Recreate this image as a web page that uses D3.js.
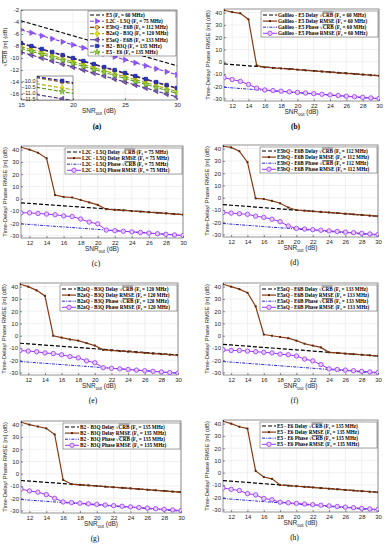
<!DOCTYPE html>
<html lang="en">
<head>
<meta charset="UTF-8">
<title>Time-Delay / Phase RMSE vs SNR</title>
<script src="https://d3js.org/d3.v7.min.js"></script>
<style>
  body { margin: 0; background: #fff; }
  svg text { font-family: "Liberation Sans", Arial, sans-serif; fill: #262626; }
  .leg text { font-family: "Liberation Serif", "DejaVu Serif", serif; font-weight: bold; fill: #000; }
  .cap { font-family: "Liberation Serif", "DejaVu Serif", serif; fill: #000; }
</style>
</head>
<body>
<div id="chart"></div>
<script>
// SNR grid (dB)
const snr = [11,12,13,14,15,16,17,18,19,20,21,22,23,24,25,26,27,28,29,30];
const xTicks = [12,14,16,18,20,22,24,26,28,30];
const yTicks = [-30,-20,-10,0,10,20,30,40];
const snrTicksA = [15,20,25,30];
const yTicksA = [-16,-14,-12,-10,-8,-6,-4,-2];

// (b) Galileo E5, 60 MHz
const delayCrbB  = [-1.8,-2.3,-2.8,-3.3,-3.8,-4.3,-4.8,-5.3,-5.8,-6.3,-6.8,-7.3,-7.8,-8.3,-8.8,-9.3,-9.8,-10.3,-10.8,-11.3];
const delayRmseB = [42,40.5,39.5,34.5,-3,-4.5,-5,-5.5,-6,-6.5,-7,-7.5,-8,-8.5,-9,-9.5,-10,-10.5,-11,-11.5];
const phaseCrbB  = [-20.8,-21.3,-21.8,-22.3,-22.8,-23.3,-23.8,-24.3,-24.8,-25.3,-25.8,-26.3,-26.8,-27.3,-27.8,-28.3,-28.8,-29.3,-29.8,-30.3];
const phaseRmseB = [-13,-14.5,-16,-18.5,-21.5,-23,-23.5,-24,-24.5,-25,-25.5,-26,-26.5,-27,-27.5,-28,-28.5,-29,-29.5,-30];

// (c) L2C - L5Q, 75 MHz
const delayCrbC  = [-3.3,-3.8,-4.3,-4.8,-5.3,-5.8,-6.3,-6.8,-7.3,-7.8,-8.3,-8.8,-9.3,-9.8,-10.3,-10.8,-11.3,-11.8,-12.3,-12.8];
const delayRmseC = [42,40,37.5,33,3,1.5,1,-1,-3,-5,-8.5,-9,-9.5,-10,-10.5,-11,-11.5,-12,-12.5,-13];
const phaseCrbC  = [-20.5,-21,-21.5,-22,-22.5,-23,-23.5,-24,-24.5,-25,-25.5,-26,-26.5,-27,-27.5,-28,-28.5,-29,-29.5,-30];
const phaseRmseC = [-11.5,-11.5,-12,-12.5,-13,-14,-14.5,-16.5,-19,-20.5,-25.5,-26,-26.5,-27,-27.5,-28,-28.5,-29,-29.5,-30];

// shared phase CRB for (d)-(h)
const phaseCrb   = [-21,-21.5,-22,-22.5,-23,-23.5,-24,-24.5,-25,-25.5,-26,-26.5,-27,-27.5,-28,-28.5,-29,-29.5,-30,-30.5];

// (d) E5bQ - E6B, 112 MHz
const delayCrbD  = [-5.6,-6.1,-6.6,-7.1,-7.6,-8.1,-8.6,-9.1,-9.6,-10.1,-10.6,-11.1,-11.6,-12.1,-12.6,-13.1,-13.6,-14.1,-14.6,-15.1];
const delayRmseD = [42,41,38,29,-0.5,-1,-2.5,-4.5,-8,-10,-10.5,-11,-11.5,-12,-12.5,-13,-13.5,-14,-14.5,-15];
const phaseRmseD = [-12,-12.5,-13,-13.5,-15,-16,-17.5,-19.5,-23,-25,-25.5,-26,-26.5,-27,-27.5,-28,-28.5,-29,-29.5,-30];

// (e) B2aQ - B3Q, 120 MHz
const delayCrbE  = [-6.1,-6.6,-7.1,-7.6,-8.1,-8.6,-9.1,-9.6,-10.1,-10.6,-11.1,-11.6,-12.1,-12.6,-13.1,-13.6,-14.1,-14.6,-15.1,-15.6];
const delayRmseE = [42,40,37,32.5,0,-1.5,-3,-4,-6,-8,-11.5,-12,-12.5,-13,-13.5,-14,-14.5,-15,-15.5,-16];
const phaseRmseE = [-12,-12.5,-13,-14,-14.5,-15.5,-17,-18,-20.5,-22,-26,-26.5,-27,-27.5,-28,-28.5,-29,-29.5,-30,-30.5];

// (f) E5aQ - E6B, 133 MHz
const delayCrbF  = [-7,-7.5,-8,-8.5,-9,-9.5,-10,-10.5,-11,-11.5,-12,-12.5,-13,-13.5,-14,-14.5,-15,-15.5,-16,-16.5];
const delayRmseF = [42,40,38,35,24,1,0,-1,-2,-4,-6.5,-8,-9.5,-13.5,-14,-14.5,-15,-15.5,-16,-16.5];
const phaseRmseF = [-11.5,-12,-12,-12.5,-13,-13.5,-14,-15,-15.5,-16.5,-19,-20.5,-23.5,-27,-27.5,-28,-28.5,-29,-29.5,-30];

// (g) B2 - B3Q, 135 MHz
const delayCrbG  = [-5.5,-6,-6.5,-7,-7.5,-8,-8.5,-9,-9.5,-10,-10.5,-11,-11.5,-12,-12.5,-13,-13.5,-14,-14.5,-15];
const delayRmseG = [42,40,38.5,37,32,-5,-8.5,-9,-9.5,-10,-10.5,-11,-11.5,-12,-12.5,-13,-13.5,-14,-14.5,-15];
const phaseRmseG = [-12.5,-14,-15,-17,-20,-23,-23.5,-24,-24.5,-25,-25.5,-26,-26.5,-27,-27.5,-28,-28.5,-29,-29.5,-30];

// (h) E5 - E6, 135 MHz
const delayCrbH  = [-6.4,-6.9,-7.4,-7.9,-8.4,-8.9,-9.4,-9.9,-10.4,-10.9,-11.4,-11.9,-12.4,-12.9,-13.4,-13.9,-14.4,-14.9,-15.4,-15.9];
const delayRmseH = [42,40,37.5,36,1.5,-3.5,-5,-10,-10.5,-11,-11.5,-12,-12.5,-13,-13.5,-14,-14.5,-15,-15.5,-16];
const phaseRmseH = [-12.5,-13.5,-14.5,-17,-18,-21,-22,-24,-24.5,-25,-25.5,-26,-26.5,-27,-27.5,-28,-28.5,-29,-29.5,-30];

const svg = d3.select("#chart").append("svg")
  .attr("width", 386).attr("height", 550)
  .style("background", "#fff");

// text with sqrt(CRB) overline and F_s subscript
function richText(sel, pre, crb, post, fs) {
  sel.append("tspan").text(pre);
  if (crb) {
    sel.append("tspan").text("\u221A");
    sel.append("tspan").style("text-decoration", "overline").text("CRB");
  }
  sel.append("tspan").text(post + "(F");
  sel.append("tspan").attr("font-size", "70%").attr("dy", 1).text("s");
  sel.append("tspan").attr("dy", -1).text(" = " + fs + " MHz)");
}

function frame(g, x, y, w, h, xt, yt, fmt) {
  g.append("rect").attr("width", w).attr("height", h).attr("fill", "#fff");
  g.append("g").selectAll("line").data(xt).join("line")
    .attr("x1", d => x(d)).attr("x2", d => x(d)).attr("y1", 0).attr("y2", h)
    .attr("stroke", "#e3e3e3").attr("stroke-width", 0.5);
  g.append("g").selectAll("line").data(yt).join("line")
    .attr("y1", d => y(d)).attr("y2", d => y(d)).attr("x1", 0).attr("x2", w)
    .attr("stroke", "#e3e3e3").attr("stroke-width", 0.5);
  const ax = g.append("g").attr("transform", `translate(0,${h})`)
    .call(d3.axisBottom(x).tickValues(xt).tickSizeInner(-2).tickSizeOuter(0).tickPadding(3));
  const ay = g.append("g")
    .call(d3.axisLeft(y).tickValues(yt).tickSizeInner(-2).tickSizeOuter(0).tickPadding(2).tickFormat(fmt || (d => d)));
  [ax, ay].forEach(a => {
    a.select(".domain").remove();
    a.selectAll("line").attr("stroke", "#262626").attr("stroke-width", 0.5);
    a.selectAll("text").attr("font-size", 6).attr("font-family", "Liberation Sans, sans-serif").attr("fill", "#262626");
  });
  g.append("rect").attr("width", w).attr("height", h).attr("fill", "none")
    .attr("stroke", "#262626").attr("stroke-width", 0.5);
}

function xLabel(g, w, h) {
  const t = g.append("text").attr("x", w / 2).attr("y", h + 13).attr("text-anchor", "middle").attr("font-size", 6.5);
  t.append("tspan").text("SNR");
  t.append("tspan").attr("font-size", 4.5).attr("dy", 1.5).text("out");
  t.append("tspan").attr("dy", -1.5).text(" (dB)");
}

// ---------- panels (b)-(h) ----------
const panels = [
  {cap: "(b)", bold: true, name: "Galileo - E5", fs: "60",  x: 224, y: 9,   w: 155, dc: delayCrbB, dr: delayRmseB, pc: phaseCrbB, pr: phaseRmseB},
  {cap: "(c)", name: "L2C - L5Q",  fs: "75",  x: 21,  y: 146, w: 162, dc: delayCrbC, dr: delayRmseC, pc: phaseCrbC, pr: phaseRmseC},
  {cap: "(d)", name: "E5bQ - E6B", fs: "112", x: 223, y: 145, w: 155, dc: delayCrbD, dr: delayRmseD, pc: phaseCrb,  pr: phaseRmseD},
  {cap: "(e)", name: "B2aQ - B3Q", fs: "120", x: 20,  y: 283, w: 158, dc: delayCrbE, dr: delayRmseE, pc: phaseCrb,  pr: phaseRmseE},
  {cap: "(f)", name: "E5aQ - E6B", fs: "133", x: 223, y: 283, w: 155, dc: delayCrbF, dr: delayRmseF, pc: phaseCrb,  pr: phaseRmseF},
  {cap: "(g)", name: "B2 - B3Q",   fs: "135", x: 21,  y: 421, w: 160, dc: delayCrbG, dr: delayRmseG, pc: phaseCrb,  pr: phaseRmseG},
  {cap: "(h)", name: "E5 - E6",    fs: "135", x: 223, y: 420, w: 155, dc: delayCrbH, dr: delayRmseH, pc: phaseCrb,  pr: phaseRmseH}
];

const styles = {
  dc: {color: "#000000", width: 1.2, dash: "4,2"},
  dr: {color: "#8a3a12", width: 1.2, dash: null, marker: "square"},
  pc: {color: "#2626d9", width: 1.0, dash: "3,1.2,1,1.2"},
  pr: {color: "#9933ff", width: 1.0, dash: null, marker: "circle"}
};

panels.forEach((p, i) => {
  const h = 92;
  const g = svg.append("g").attr("transform", `translate(${p.x},${p.y})`);
  const x = d3.scaleLinear().domain([11, 30]).range([0, p.w]);
  const y = d3.scaleLinear().domain([-32, 43]).range([h, 0]);
  frame(g, x, y, p.w, h, xTicks, yTicks);

  g.append("clipPath").attr("id", "clip" + i).append("rect").attr("width", p.w).attr("height", h);
  const plot = g.append("g").attr("clip-path", `url(#clip${i})`);
  const line = d3.line().x(d => x(d[0])).y(d => y(d[1]));

  ["pc", "dc", "pr", "dr"].forEach(k => {
    const st = styles[k];
    const pts = snr.map((s, j) => [s, p[k][j]]);
    plot.append("path").datum(pts).attr("d", line).attr("fill", "none")
      .attr("stroke", st.color).attr("stroke-width", st.width)
      .attr("stroke-dasharray", st.dash);
    if (st.marker === "square") {
      plot.append("g").selectAll("rect").data(pts).join("rect")
        .attr("x", d => x(d[0]) - 1).attr("y", d => y(d[1]) - 1)
        .attr("width", 2).attr("height", 2).attr("fill", "#5a2a10");
    } else if (st.marker === "circle") {
      plot.append("g").selectAll("circle").data(pts).join("circle")
        .attr("cx", d => x(d[0])).attr("cy", d => y(d[1])).attr("r", 2.2)
        .attr("fill", "#e6ccff").attr("stroke", st.color).attr("stroke-width", 0.8);
    }
  });

  // legend
  const lx = p.w - 118, ly = 2;
  const leg = g.append("g").attr("class", "leg").attr("transform", `translate(${lx},${ly})`);
  leg.append("rect").attr("width", 117).attr("height", 26).attr("fill", "#fff")
    .attr("stroke", "#262626").attr("stroke-width", 0.4);
  const items = [
    ["dc", " Delay ", true], ["dr", " Delay RMSE ", false],
    ["pc", " Phase ", true], ["pr", " Phase RMSE ", false]
  ];
  items.forEach((it, j) => {
    const st = styles[it[0]];
    const yy = 4 + j * 6.1;
    leg.append("line").attr("x1", 2).attr("x2", 16).attr("y1", yy).attr("y2", yy)
      .attr("stroke", st.color).attr("stroke-width", st.width).attr("stroke-dasharray", st.dash);
    if (st.marker === "square") leg.append("rect").attr("x", 8).attr("y", yy - 1).attr("width", 2).attr("height", 2).attr("fill", "#5a2a10");
    if (st.marker === "circle") leg.append("circle").attr("cx", 9).attr("cy", yy).attr("r", 2.2)
      .attr("fill", "#e6ccff").attr("stroke", st.color).attr("stroke-width", 0.8);
    const t = leg.append("text").attr("x", 17).attr("y", yy + 1.8).attr("font-size", 5.2);
    if (it[2]) richText(t, p.name + it[1], true, " ", p.fs);
    else richText(t, p.name + it[1], false, "", p.fs);
  });

  // labels
  g.append("text").attr("transform", `translate(-14,${h / 2}) rotate(-90)`)
    .attr("text-anchor", "middle").attr("font-size", 5.8)
    .text("Time-Delay/ Phase RMSE [m] (dB)");
  xLabel(g, p.w, h);
  g.append("text").attr("class", "cap").attr("x", p.w / 2 - 6).attr("y", h + 28)
    .attr("text-anchor", "middle").attr("font-size", 7.5)
    .attr("font-weight", p.bold ? "bold" : "normal").text(p.cap);
});

// ---------- panel (a): sqrt(CRB) comparison ----------
const seriesA = [
  {name: "E5",         fs: "60",  vals: delayCrbB, color: "#000000", sym: null},
  {name: "L2C - L5Q",  fs: "75",  vals: delayCrbC, color: "#7d3fe0", sym: "tri-r", fill: "#8f55ff"},
  {name: "E5bQ - E6B", fs: "112", vals: delayCrbD, color: "#7a3a0a", sym: "circle", fill: "#f2c46b"},
  {name: "B2aQ - B3Q", fs: "120", vals: delayCrbE, color: "#a8a800", sym: "diamond", fill: "#e8e800"},
  {name: "E5aQ - E6B", fs: "133", vals: delayCrbF, color: "#4a2a80", sym: "tri-l", fill: "#7b5cb8"},
  {name: "B2 - B3Q",   fs: "135", vals: delayCrbG, color: "#1a1a8c", sym: "square", fill: "#1f3ad0"},
  {name: "E5 - E6",    fs: "135", vals: delayCrbH, color: "#5a9a1a", sym: "star", fill: "#9ad24a"}
];
const snrA = snr.slice(4);

function marker(sel, s, size) {
  const types = {circle: d3.symbolCircle, diamond: d3.symbolDiamond, square: d3.symbolSquare,
                 star: d3.symbolStar, "tri-r": d3.symbolTriangle, "tri-l": d3.symbolTriangle};
  const rot = s.sym === "tri-r" ? 90 : s.sym === "tri-l" ? -90 : 0;
  sel.attr("d", d3.symbol().type(types[s.sym]).size(size))
    .attr("fill", s.fill).attr("stroke", s.color).attr("stroke-width", 0.6)
    .attr("transform", d => `translate(${d[0]},${d[1]}) rotate(${rot})`);
}

(function () {
  const W = 156, H = 90;
  const g = svg.append("g").attr("transform", "translate(21,10)");
  const x = d3.scaleLinear().domain([15, 30]).range([0, W]);
  const y = d3.scaleLinear().domain([-17, -2]).range([H, 0]);
  frame(g, x, y, W, H, snrTicksA, yTicksA);
  g.append("clipPath").attr("id", "clipA").append("rect").attr("width", W).attr("height", H);
  const plot = g.append("g").attr("clip-path", "url(#clipA)");
  const line = d3.line().x(d => x(d[0])).y(d => y(d[1]));
  seriesA.forEach(s => {
    const pts = snrA.map((v, j) => [v, s.vals[j + 4]]);
    plot.append("path").datum(pts).attr("d", line).attr("fill", "none")
      .attr("stroke", s.color).attr("stroke-width", 1.1).attr("stroke-dasharray", "4,2");
    if (s.sym) marker(plot.append("g").selectAll("path").data(pts.map(d => [x(d[0]), y(d[1])])).join("path"), s, 12);
  });

  // legend
  const leg = g.append("g").attr("class", "leg").attr("transform", "translate(67,1)");
  leg.append("rect").attr("width", 88).attr("height", 45).attr("fill", "#fff")
    .attr("stroke", "#262626").attr("stroke-width", 0.4);
  seriesA.forEach((s, j) => {
    const yy = 4 + j * 6.2;
    leg.append("line").attr("x1", 2).attr("x2", 16).attr("y1", yy).attr("y2", yy)
      .attr("stroke", s.color).attr("stroke-width", 1.1).attr("stroke-dasharray", "4,2");
    if (s.sym) marker(leg.append("path").datum([9, yy]), s, 12);
    const t = leg.append("text").attr("x", 18).attr("y", yy + 1.8).attr("font-size", 5.2);
    richText(t, s.name + " ", false, "", s.fs);
  });

  // inset zoom
  const ig = g.append("g").attr("transform", "translate(16,66)");
  const iw = 36, ih = 24;
  const ix = d3.scaleLinear().domain([19.3, 20.3]).range([0, iw]);
  const iy = d3.scaleLinear().domain([-11.6, -9.6]).range([ih, 0]);
  ig.append("rect").attr("width", iw).attr("height", ih).attr("fill", "#fff");
  ig.append("clipPath").attr("id", "clipI").append("rect").attr("width", iw).attr("height", ih);
  const ip = ig.append("g").attr("clip-path", "url(#clipI)");
  const iline = d3.line().x(d => ix(d[0])).y(d => iy(d[1]));
  seriesA.forEach(s => {
    const pts = snrA.map((v, j) => [v, s.vals[j + 4]]);
    ip.append("path").datum(pts).attr("d", iline).attr("fill", "none")
      .attr("stroke", s.color).attr("stroke-width", 1.1).attr("stroke-dasharray", "4,2");
    if (s.sym) marker(ip.append("g").selectAll("path").data(pts.map(d => [ix(d[0]), iy(d[1])])).join("path"), s, 12);
  });
  const iay = ig.append("g").call(d3.axisLeft(iy).tickValues([-11.5, -11, -10.5, -10]).tickSizeInner(-1.5).tickSizeOuter(0).tickPadding(1.5));
  iay.select(".domain").remove();
  iay.selectAll("line").attr("stroke", "#262626").attr("stroke-width", 0.5);
  iay.selectAll("text").attr("font-size", 5.5).attr("font-family", "Liberation Sans, sans-serif").attr("fill", "#262626");
  ig.append("rect").attr("width", iw).attr("height", ih).attr("fill", "none").attr("stroke", "#262626").attr("stroke-width", 0.5);

  const yl = g.append("text").attr("transform", `translate(-14,${H / 2 - 8}) rotate(-90)`)
    .attr("text-anchor", "middle").attr("font-size", 6);
  yl.append("tspan").text("\u221A");
  yl.append("tspan").style("text-decoration", "overline").text("CRB");
  yl.append("tspan").text(" [m] (dB)");
  xLabel(g, W, H);
  g.append("text").attr("class", "cap").attr("x", W / 2 - 2).attr("y", H + 29)
    .attr("text-anchor", "middle").attr("font-size", 7.5).attr("font-weight", "bold").text("(a)");
})();
</script>
</body>
</html>
